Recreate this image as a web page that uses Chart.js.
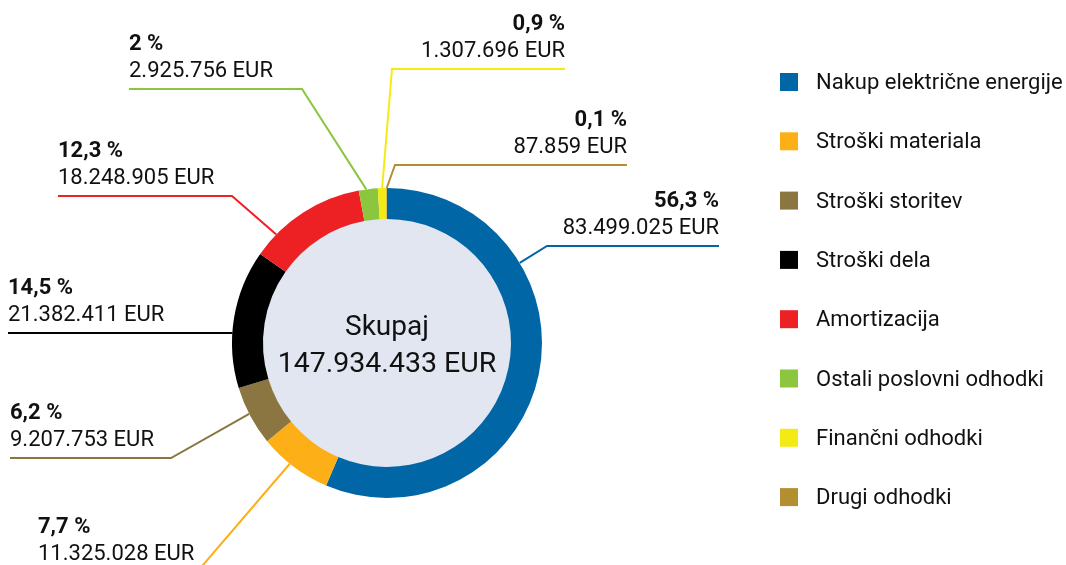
<!DOCTYPE html>
<html>
<head>
<meta charset="utf-8">
<script src="https://cdn.jsdelivr.net/npm/chart.js@4/dist/chart.umd.min.js"></script>
<style>
  html, body { margin:0; padding:0; background:#fff; }
  #wrap { width:1066px; height:565px; position:relative; }
</style>
</head>
<body>
<div id="wrap"><canvas id="costChart"></canvas></div>
<script>
const categories = [
  "Nakup električne energije",
  "Stroški materiala",
  "Stroški storitev",
  "Stroški dela",
  "Amortizacija",
  "Ostali poslovni odhodki",
  "Finančni odhodki",
  "Drugi odhodki"
];
const amounts = [83499025, 11325028, 9207753, 21382411, 18248905, 2925756, 1307696, 87859];
const shares = [56.3, 7.7, 6.2, 14.5, 12.3, 2, 0.9, 0.1];
const totalAmount = 147934433;
const totalTitle = "Skupaj";

const colors = ["#0066a6", "#fcaf17", "#8b7540", "#000000", "#ed2024", "#8cc63e", "#f5eb14", "#b38f32"];

// leader lines: where on the slice they start (0..1 of its angle),
// elbow offset from the centre, and x offset of the far end of the rule
const callouts = [
  { at:0.29, ex:160,  ey:-97,  end:332,  align:"right" },
  { at:0.57, ex:-190, ey:229,  end:-349, align:"left" },
  { at:0.54, ex:-216, ey:115,  end:-377, align:"left" },
  { at:0.40, ex:-155, ey:-10,  end:-379, align:"left" },
  { at:0.21, ex:-155, ey:-147, end:-329, align:"left" },
  { at:0.40, ex:-85,  ey:-254, end:-258, align:"left" },
  { at:0.50, ex:5,    ey:-274, end:178,  align:"right" },
  { at:0.50, ex:8,    ey:-178, end:240,  align:"right" }
];

const FONT = "Roboto, 'Noto Sans', sans-serif";

function eur(n){
  return String(n).replace(/\B(?=(\d{3})+(?!\d))/g, ".") + " EUR";
}
function pct(n){
  return String(n).replace(".", ",") + " %";
}

const ringFill = {
  id: "ringFill",
  beforeDatasetsDraw(chart){
    const arc = chart.getDatasetMeta(0).data[0];
    const ctx = chart.ctx;
    ctx.save();
    ctx.fillStyle = "#e1e6f1";
    ctx.beginPath();
    ctx.arc(arc.x, arc.y, arc.innerRadius + 1, 0, Math.PI * 2);
    ctx.fill();
    ctx.restore();
  }
};

const callout = {
  id: "callout",
  afterDatasetsDraw(chart){
    const ctx = chart.ctx;
    const arcs = chart.getDatasetMeta(0).data;
    const ds = chart.data.datasets[0];
    const cx = arcs[0].x, cy = arcs[0].y;

    ctx.save();
    // centre text
    ctx.fillStyle = "#111";
    ctx.textAlign = "center";
    ctx.textBaseline = "alphabetic";
    ctx.font = "28px " + FONT;
    ctx.fillText(totalTitle, cx, cy - 8);
    ctx.font = "28.5px " + FONT;
    ctx.fillText(eur(totalAmount), cx, cy + 29);

    arcs.forEach((a, i) => {
      const c = callouts[i];
      const ang = a.startAngle + (a.endAngle - a.startAngle) * c.at;
      const sx = cx + Math.cos(ang) * a.outerRadius;
      const sy = cy + Math.sin(ang) * a.outerRadius;
      const ex = cx + c.ex, ey = cy + c.ey;
      const fx = cx + c.end;

      ctx.strokeStyle = ds.backgroundColor[i];
      ctx.lineWidth = 2;
      ctx.beginPath();
      ctx.moveTo(sx, sy);
      ctx.lineTo(ex, ey);
      ctx.lineTo(fx, ey);
      ctx.stroke();

      ctx.fillStyle = "#111";
      ctx.textAlign = c.align;
      ctx.font = "bold 22px " + FONT;
      ctx.fillText(pct(shares[i]), fx, ey - 39);
      ctx.font = "22px " + FONT;
      ctx.fillText(eur(ds.data[i]), fx, ey - 12);
    });

    // legend
    ctx.textAlign = "left";
    ctx.font = "22px " + FONT;
    chart.data.labels.forEach((lab, i) => {
      const y = 73 + i * 59.3;
      ctx.fillStyle = ds.backgroundColor[i];
      ctx.fillRect(780, y, 18, 18);
      ctx.fillStyle = "#111";
      ctx.fillText(lab, 816, y + 16);
    });
    ctx.restore();
  }
};

new Chart(document.getElementById("costChart"), {
  type: "doughnut",
  data: {
    labels: categories,
    datasets: [{
      data: amounts,
      backgroundColor: colors,
      borderWidth: 0,
      hoverOffset: 0
    }]
  },
  options: {
    responsive: true,
    maintainAspectRatio: false,
    animation: false,
    cutout: "80%",
    layout: { padding: { left:232, top:188, right:524, bottom:67 } },
    plugins: {
      legend: { display:false },
      tooltip: { enabled:false }
    }
  },
  plugins: [ringFill, callout]
});
</script>
</body>
</html>
